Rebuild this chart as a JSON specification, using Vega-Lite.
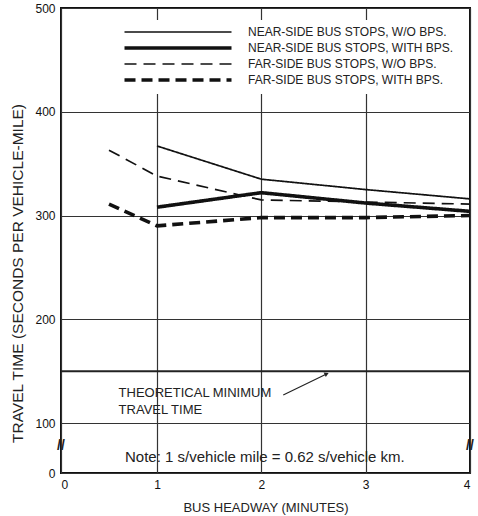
{
  "$schema": "https://vega.github.io/schema/vega-lite/v6.json",
  "width": 409,
  "height": 465,
  "autosize": {"type": "none"},
  "padding": {"left": 61, "top": 8, "right": 8, "bottom": 43},
  "background": "white",
  "config": {
    "font": "Liberation Sans",
    "view": {"stroke": "#111", "strokeWidth": 2},
    "axis": {
      "labelFont": "Liberation Sans",
      "labelFontSize": 12,
      "labelColor": "#111",
      "titleFont": "Liberation Sans",
      "titleFontWeight": "normal",
      "titleColor": "#222",
      "ticks": false,
      "domain": false,
      "grid": true,
      "gridColor": "#333",
      "gridWidth": 1.2,
      "gridOpacity": 1
    },
    "legend": {
      "labelFont": "Liberation Sans",
      "labelColor": "#222"
    }
  },
  "data": {
    "values": [
      {"series": "NEAR-SIDE BUS STOPS, W/O BPS.", "headway": 1, "time": 367},
      {"series": "NEAR-SIDE BUS STOPS, W/O BPS.", "headway": 2, "time": 335},
      {"series": "NEAR-SIDE BUS STOPS, W/O BPS.", "headway": 3, "time": 325},
      {"series": "NEAR-SIDE BUS STOPS, W/O BPS.", "headway": 4, "time": 316},
      {"series": "NEAR-SIDE BUS STOPS, WITH BPS.", "headway": 1, "time": 308},
      {"series": "NEAR-SIDE BUS STOPS, WITH BPS.", "headway": 2, "time": 322},
      {"series": "NEAR-SIDE BUS STOPS, WITH BPS.", "headway": 3, "time": 312},
      {"series": "NEAR-SIDE BUS STOPS, WITH BPS.", "headway": 4, "time": 304},
      {"series": "FAR-SIDE BUS STOPS, W/O BPS.", "headway": 0.5, "time": 363},
      {"series": "FAR-SIDE BUS STOPS, W/O BPS.", "headway": 1, "time": 338},
      {"series": "FAR-SIDE BUS STOPS, W/O BPS.", "headway": 2, "time": 315},
      {"series": "FAR-SIDE BUS STOPS, W/O BPS.", "headway": 3, "time": 313},
      {"series": "FAR-SIDE BUS STOPS, W/O BPS.", "headway": 4, "time": 311},
      {"series": "FAR-SIDE BUS STOPS, WITH BPS.", "headway": 0.5, "time": 311},
      {"series": "FAR-SIDE BUS STOPS, WITH BPS.", "headway": 1, "time": 290},
      {"series": "FAR-SIDE BUS STOPS, WITH BPS.", "headway": 2, "time": 298},
      {"series": "FAR-SIDE BUS STOPS, WITH BPS.", "headway": 3, "time": 298},
      {"series": "FAR-SIDE BUS STOPS, WITH BPS.", "headway": 4, "time": 300}
    ]
  },
  "layer": [
    {
      "data": {"values": [{}]},
      "mark": {"type": "rule", "color": "#222", "strokeWidth": 2},
      "encoding": {"y": {"datum": 150, "type": "quantitative"}}
    },
    {
      "mark": {"type": "line", "color": "#111", "strokeCap": "butt", "strokeJoin": "round"},
      "encoding": {
        "x": {
          "field": "headway",
          "type": "quantitative",
          "scale": {"domain": [0, 1, 4], "range": [0, 96, 409]},
          "axis": {
            "values": [0, 1, 2, 3, 4],
            "format": "d",
            "title": "BUS HEADWAY (MINUTES)",
            "titleFontSize": 13,
            "titleY": 34,
            "titleBaseline": "middle",
            "labelPadding": 6
          }
        },
        "y": {
          "field": "time",
          "type": "quantitative",
          "scale": {"domain": [0, 100, 500], "range": [465, 415, 0]},
          "axis": {
            "values": [0, 100, 200, 300, 400, 500],
            "title": "TRAVEL TIME (SECONDS PER VEHICLE-MILE)",
            "titleFontSize": 15.5,
            "titleX": -44,
            "titleY": 265,
            "titleBaseline": "middle",
            "labelPadding": 6
          }
        },
        "strokeDash": {
          "field": "series",
          "type": "nominal",
          "scale": {
            "domain": ["NEAR-SIDE BUS STOPS, W/O BPS.", "NEAR-SIDE BUS STOPS, WITH BPS.", "FAR-SIDE BUS STOPS, W/O BPS.", "FAR-SIDE BUS STOPS, WITH BPS."],
            "range": [[1, 0], [1, 0], [12, 7], [11, 6]]
          },
          "legend": {
            "title": null,
            "orient": "none",
            "legendX": 58,
            "legendY": 12,
            "symbolType": "stroke",
            "symbolSize": 11449,
            "symbolOffset": 47,
            "symbolStrokeColor": "#111",
            "labelFontSize": 12,
            "labelOffset": 64,
            "labelLimit": 400,
            "rowPadding": 2,
            "padding": 6,
            "fillColor": "white",
            "encode": {
              "symbols": {
                "update": {
                  "strokeWidth": {"signal": "(datum.value === 'NEAR-SIDE BUS STOPS, WITH BPS.' || datum.value === 'FAR-SIDE BUS STOPS, WITH BPS.') ? 3.6 : 1.7"}
                }
              }
            }
          }
        },
        "strokeWidth": {
          "condition": {"test": "datum.series === 'NEAR-SIDE BUS STOPS, WITH BPS.' || datum.series === 'FAR-SIDE BUS STOPS, WITH BPS.'", "value": 3.6},
          "value": 1.7
        }
      }
    },
    {
      "data": {"values": [{}]},
      "mark": {"type": "text", "align": "left", "baseline": "alphabetic", "fontSize": 13, "lineHeight": 17, "color": "#222"},
      "encoding": {
        "x": {"datum": 0.6, "type": "quantitative"},
        "y": {"datum": 125, "type": "quantitative"},
        "text": {"value": ["THEORETICAL MINIMUM", "TRAVEL TIME"]}
      }
    },
    {
      "data": {"values": [{}]},
      "mark": {"type": "rule", "color": "#222", "strokeWidth": 1.2},
      "encoding": {
        "x": {"datum": 2.21, "type": "quantitative"},
        "x2": {"datum": 2.62},
        "y": {"datum": 127, "type": "quantitative"},
        "y2": {"datum": 147}
      }
    },
    {
      "data": {"values": [{}]},
      "mark": {"type": "point", "shape": "triangle", "filled": true, "color": "#222", "size": 25, "angle": 64, "opacity": 1},
      "encoding": {
        "x": {"datum": 2.62, "type": "quantitative"},
        "y": {"datum": 147, "type": "quantitative"}
      }
    },
    {
      "data": {"values": [{}]},
      "mark": {"type": "text", "align": "left", "baseline": "alphabetic", "fontSize": 15, "color": "#222"},
      "encoding": {
        "x": {"datum": 0.667, "type": "quantitative"},
        "y": {"datum": 23, "type": "quantitative"},
        "text": {"value": "Note:  1 s/vehicle mile = 0.62 s/vehicle km."}
      }
    },
    {
      "data": {"values": [{"side": 0}, {"side": 4}]},
      "mark": {"type": "text", "align": "center", "baseline": "middle", "fontSize": 14, "fontWeight": "bold", "color": "#222"},
      "encoding": {
        "x": {"field": "side", "type": "quantitative"},
        "y": {"datum": 55, "type": "quantitative"},
        "text": {"value": "//"}
      }
    }
  ]
}
